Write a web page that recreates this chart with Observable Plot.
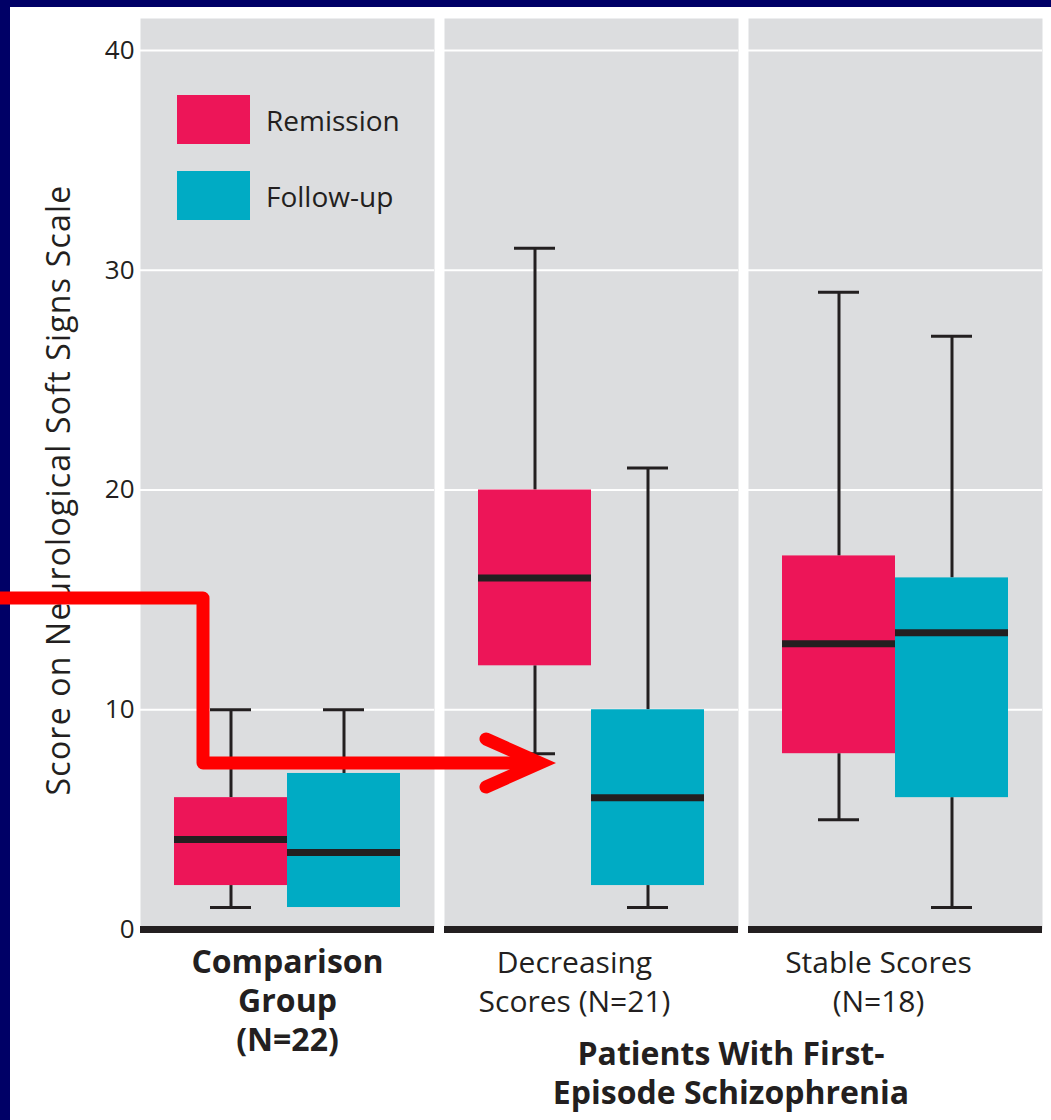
<!DOCTYPE html>
<html>
<head>
<meta charset="utf-8">
<script src="https://cdn.jsdelivr.net/npm/d3@7"></script>
<script src="https://cdn.jsdelivr.net/npm/@observablehq/plot@0.6"></script>
<style>
  html, body { margin: 0; padding: 0; }
  body { width: 1051px; height: 1120px; background: #000066; position: relative; overflow: hidden; font-family: "Open Sans", sans-serif; }
  #wrap { position: absolute; left: 10px; top: 7px; width: 1041px; height: 1113px; background: #ffffff; }
  #chart { position: absolute; left: 0; top: 0; }
  .legend-item { position: absolute; display: flex; align-items: center; }
  .legend-swatch { width: 73px; height: 49px; }
  .legend-label { margin-left: 16px; font-size: 28px; color: #231f20; }
  #supertitle { position: absolute; left: 721px; top: 1026px; width: 480px; margin-left: -240px; text-align: center; font-weight: bold; font-size: 32px; line-height: 39px; color: #231f20; }
  #ylabel { position: absolute; left: 57px; top: 490px; transform: translate(-50%, -50%) rotate(-90deg); white-space: nowrap; font-size: 32px; letter-spacing: 1.2px; color: #231f20; }
  #overlay { position: absolute; left: 0; top: 0; pointer-events: none; }
</style>
</head>
<body>
<div id="wrap">
  <div id="chart"></div>
  <div id="legend"></div>
  <div id="supertitle">Patients With First-<br>Episode Schizophrenia</div>
</div>
<div id="ylabel"></div>
<svg id="overlay" width="1051" height="1120"></svg>
<script>
// ---- data ----
const groups = ["Comparison", "Decreasing", "Stable"];
const groupLabels = ["Comparison\nGroup\n(N=22)", "Decreasing\nScores (N=21)", "Stable Scores\n(N=18)"];
const phases = ["Remission", "Follow-up"];
const phaseColors = ["#ed1558", "#00abc4"];
// order: Comparison-Remission, Comparison-Follow-up, Decreasing-Remission, Decreasing-Follow-up, Stable-Remission, Stable-Follow-up
const lowWhisker  = [1, 1, 8, 1, 5, 1];
const q1          = [2, 1, 12, 2, 8, 6];
const median      = [4.1, 3.5, 16, 6, 13, 13.5];
const q3          = [6, 7.1, 20, 10, 17, 16];
const highWhisker = [10, 10, 31, 21, 29, 27];
const yTicks = [0, 10, 20, 30, 40];
const yLabel = "Score on Neurological Soft Signs Scale";

// ---- build table ----
const rows = [];
groups.forEach((g, gi) => phases.forEach((p, pi) => {
  const i = gi * phases.length + pi;
  rows.push({group: g, phase: p, low: lowWhisker[i], q1: q1[i], median: median[i], q3: q3[i], high: highWhisker[i]});
}));
const lowRows = rows.filter(d => d.low < d.q1);
const labelRows = groups.map((g, i) => ({group: g, label: groupLabels[i]}));

const ink = "#231f20";

const chart = Plot.plot({
  width: 1041,
  height: 1113,
  marginLeft: 129,
  marginRight: 8,
  marginTop: 11,
  marginBottom: 191,
  style: {fontFamily: "Open Sans, sans-serif", color: ink, background: "transparent"},
  fx: {domain: groups, paddingInner: 0.033, paddingOuter: 0, axis: null, label: null},
  x: {domain: phases, paddingInner: 0, paddingOuter: 0.29, axis: null, label: null},
  y: {domain: [0, 40], insetTop: 32, label: null},
  color: {domain: phases, range: phaseColors},
  marks: [
    Plot.frame({fill: "#dcdddf", stroke: null}),
    Plot.gridY(yTicks.filter(d => d > 0), {stroke: "#ffffff", strokeOpacity: 1, strokeWidth: 2}),
    Plot.axisY({ticks: yTicks, tickSize: 0, tickPadding: 6, fontSize: 26, fill: ink, label: null}),
    Plot.ruleX(lowRows, {fx: "group", x: "phase", y1: "low", y2: "q1", stroke: ink, strokeWidth: 3}),
    Plot.ruleX(rows, {fx: "group", x: "phase", y1: "q3", y2: "high", stroke: ink, strokeWidth: 3}),
    Plot.tickY(lowRows, {fx: "group", x: "phase", y: "low", stroke: ink, strokeWidth: 3, inset: 36}),
    Plot.tickY(rows, {fx: "group", x: "phase", y: "high", stroke: ink, strokeWidth: 3, inset: 36}),
    Plot.barY(rows, {fx: "group", x: "phase", y1: "q1", y2: "q3", fill: "phase"}),
    Plot.tickY(rows, {fx: "group", x: "phase", y: "median", stroke: ink, strokeWidth: 7}),
    Plot.ruleY([0], {stroke: ink, strokeWidth: 7}),
    Plot.text(labelRows.filter(d => d.group === groups[0]), {fx: "group", text: "label", frameAnchor: "bottom",
      dy: 16, lineAnchor: "top", lineHeight: 1.22, fontSize: 32, fontWeight: "bold", fill: ink}),
    Plot.text(labelRows.filter(d => d.group !== groups[0]), {fx: "group", text: "label", frameAnchor: "bottom",
      dx: -17, dy: 16, lineAnchor: "top", lineHeight: 1.3, fontSize: 30, fill: ink})
  ]
});
document.getElementById("chart").appendChild(chart);

// ---- y label ----
document.getElementById("ylabel").textContent = yLabel;

// ---- legend (inside first panel) ----
const legend = document.getElementById("legend");
phases.forEach((p, i) => {
  const item = document.createElement("div");
  item.className = "legend-item";
  item.style.left = "167px";
  item.style.top = (88 + i * 76) + "px";
  const sw = document.createElement("div");
  sw.className = "legend-swatch";
  sw.style.background = phaseColors[i];
  const lb = document.createElement("span");
  lb.className = "legend-label";
  lb.textContent = p;
  item.appendChild(sw); item.appendChild(lb);
  legend.appendChild(item);
});

// ---- red annotation arrow ----
const ov = d3.select("#overlay");
ov.append("path").attr("d", "M0,598 H203 V763 H538")
  .attr("fill", "none").attr("stroke", "#ff0000").attr("stroke-width", 13)
  .attr("stroke-linejoin", "round");
ov.append("path").attr("d", "M486,739 L540,763 L486,787")
  .attr("fill", "none").attr("stroke", "#ff0000").attr("stroke-width", 13)
  .attr("stroke-linejoin", "miter").attr("stroke-linecap", "round");
</script>
</body>
</html>
